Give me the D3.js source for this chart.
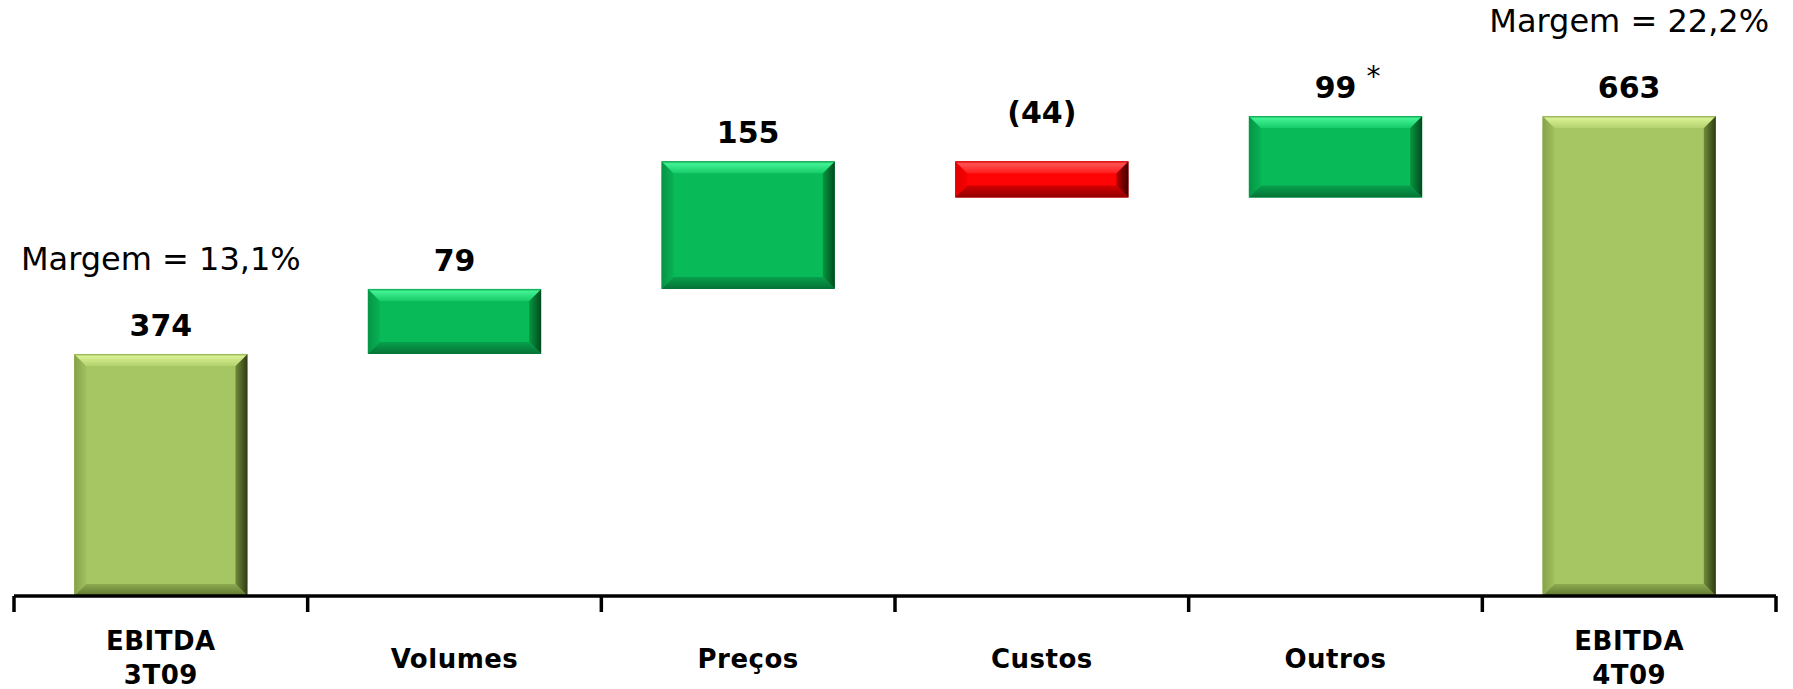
<!DOCTYPE html>
<html>
<head>
<meta charset="utf-8">
<script src="https://cdnjs.cloudflare.com/ajax/libs/d3/7.8.5/d3.min.js"></script>
<style>
  body { margin: 0; background: #fff; }
  svg { display: block; font-family: "DejaVu Sans", Verdana, sans-serif; }
</style>
</head>
<body>
<div id="chart"></div>
<script>
var categories = ["EBITDA 3T09", "Volumes", "Preços", "Custos", "Outros", "EBITDA 4T09"];
var values = [374, 79, 155, -44, 99, 663];
var kinds = ["total", "delta", "delta", "delta", "delta", "total"];
var valueLabels = ["374", "79", "155", "(44)", "99", "663"];
var footnotes = ["", "", "", "", "*", ""];
var margins = ["Margem = 13,1%", "", "", "", "", "Margem = 22,2%"];
var axisMin = 80;

var width = 1793;
var height = 689;

// running totals for the waterfall
var run = 0;
var bars = categories.map(function(c, i) {
  var start, end;
  if (kinds[i] == "total") { start = axisMin; end = values[i]; run = values[i]; }
  else { start = run; end = run + values[i]; run = end; }
  return { cat: c, start: start, end: end, value: values[i], kind: kinds[i], label: valueLabels[i], note: footnotes[i], margin: margins[i] };
});

var svg = d3.select("#chart").append("svg")
  .attr("width", width)
  .attr("height", height);

var x = d3.scaleBand()
  .domain(categories)
  .range([14, 1776])
  .paddingInner(0.41)
  .paddingOuter(0.205);

var y = d3.scaleLinear()
  .domain([axisMin, 663])
  .range([596, 116]);

var palettes = {
  total: { main: "#a5c663", topEdge: "#8eab52", topLight: "#d8f092", topIn: "#b3d26e",
           rightIn: "#6f8b3a", rightOut: "#2f3a14", botIn: "#8dab50", botOut: "#5e7630",
           leftOut: "#86a24a", leftIn: "#a0c05e" },
  up:    { main: "#08bb58", topEdge: "#07a04a", topLight: "#42f294", topIn: "#16cc68",
           rightIn: "#06973f", rightOut: "#024a1f", botIn: "#07a04c", botOut: "#057336",
           leftOut: "#069446", leftIn: "#08b254" },
  down:  { main: "#ff0404", topEdge: "#d80000", topLight: "#ff5252", topIn: "#ff1c1c",
           rightIn: "#b80000", rightOut: "#3c0000", botIn: "#d40000", botOut: "#900000",
           leftOut: "#e00000", leftIn: "#f80000" }
};

var defs = svg.append("defs");
function grad(id, x1, y1, x2, y2, stops) {
  var g = defs.append("linearGradient").attr("id", id)
    .attr("x1", x1).attr("y1", y1).attr("x2", x2).attr("y2", y2);
  stops.forEach(function(s) { g.append("stop").attr("offset", s[0]).attr("stop-color", s[1]); });
}
Object.keys(palettes).forEach(function(k) {
  var p = palettes[k];
  grad(k + "-top", 0, 0, 0, 1, [["0%", p.topEdge], ["20%", p.topLight], ["100%", p.topIn]]);
  grad(k + "-bot", 0, 0, 0, 1, [["0%", p.botIn], ["100%", p.botOut]]);
  grad(k + "-right", 0, 0, 1, 0, [["0%", p.rightIn], ["100%", p.rightOut]]);
  grad(k + "-left", 0, 0, 1, 0, [["0%", p.leftOut], ["100%", p.leftIn]]);
});

function paletteOf(d) {
  if (d.kind == "total") return "total";
  return d.value < 0 ? "down" : "up";
}

var g = svg.selectAll(".bar")
  .data(bars)
  .enter()
  .append("g")
  .attr("class", "bar");

g.each(function(d) {
  var sel = d3.select(this);
  var k = paletteOf(d);
  var x0 = x(d.cat), x1 = x0 + x.bandwidth();
  var y0 = y(Math.max(d.start, d.end)), y1 = y(Math.min(d.start, d.end));
  var b = Math.min(12, (y1 - y0) / 3);
  sel.append("rect")
    .attr("x", x0).attr("y", y0)
    .attr("width", x1 - x0).attr("height", y1 - y0)
    .attr("fill", palettes[k].main);
  var polys = [
    ["left",  [[x0, y0], [x0 + b, y0 + b], [x0 + b, y1 - b], [x0, y1]]],
    ["right", [[x1, y0], [x1 - b, y0 + b], [x1 - b, y1 - b], [x1, y1]]],
    ["top",   [[x0, y0], [x1, y0], [x1 - b, y0 + b], [x0 + b, y0 + b]]],
    ["bot",   [[x0, y1], [x1, y1], [x1 - b, y1 - b], [x0 + b, y1 - b]]]
  ];
  polys.forEach(function(p) {
    sel.append("polygon")
      .attr("points", p[1].map(function(q) { return q.join(","); }).join(" "))
      .attr("fill", "url(#" + k + "-" + p[0] + ")");
  });
});

// value labels
svg.selectAll(".val")
  .data(bars)
  .enter()
  .append("text")
  .attr("class", "val")
  .attr("x", function(d) { return x(d.cat) + x.bandwidth() / 2; })
  .attr("y", function(d) { return y(Math.max(d.start, d.end)) - (d.value < 0 ? 38 : 18); })
  .attr("text-anchor", "middle")
  .attr("font-size", 30)
  .attr("font-weight", "bold")
  .attr("fill", "#000")
  .text(function(d) { return d.label; });

svg.selectAll(".note")
  .data(bars.filter(function(d) { return d.note; }))
  .enter()
  .append("text")
  .attr("x", function(d) { return x(d.cat) + x.bandwidth() / 2 + 38; })
  .attr("y", function(d) { return y(Math.max(d.start, d.end)) - 30; })
  .attr("text-anchor", "middle")
  .attr("font-size", 28)
  .attr("fill", "#000")
  .text(function(d) { return d.note; });

// margin notes above the totals
svg.selectAll(".margin")
  .data(bars.filter(function(d) { return d.margin; }))
  .enter()
  .append("text")
  .attr("class", "margin")
  .attr("x", function(d) { return x(d.cat) + x.bandwidth() / 2; })
  .attr("y", function(d) { return y(d.end) - 84; })
  .attr("text-anchor", "middle")
  .attr("font-size", 32)
  .attr("fill", "#000")
  .text(function(d) { return d.margin; });

// axis: line with ticks between categories
var step = x.step();
var edges = categories.map(function(c) { return x(c) - step * x.paddingInner() / 2; });
edges.push(x.range()[1]);
var ay = y(axisMin);
svg.append("line")
  .attr("x1", x.range()[0]).attr("x2", x.range()[1])
  .attr("y1", ay).attr("y2", ay)
  .attr("stroke", "#000").attr("stroke-width", 3.5);
svg.selectAll(".tick")
  .data(edges)
  .enter()
  .append("line")
  .attr("x1", function(d) { return d; }).attr("x2", function(d) { return d; })
  .attr("y1", ay).attr("y2", ay + 16)
  .attr("stroke", "#000").attr("stroke-width", 3.5);

var cats = svg.selectAll(".cat")
  .data(categories)
  .enter()
  .append("text")
  .attr("class", "cat")
  .attr("x", function(d) { return x(d) + x.bandwidth() / 2; })
  .attr("text-anchor", "middle")
  .attr("font-size", 26)
  .attr("font-weight", "bold")
  .attr("letter-spacing", 0.5)
  .attr("fill", "#000");

cats.each(function(d) {
  var parts = d.split(" ");
  var t = d3.select(this);
  if (parts.length == 1) {
    t.attr("y", 668).text(d);
  } else {
    t.attr("y", 650);
    parts.forEach(function(p, i) {
      t.append("tspan")
        .attr("x", x(d) + x.bandwidth() / 2)
        .attr("dy", i == 0 ? 0 : 34)
        .text(p);
    });
  }
});
</script>
</body>
</html>
